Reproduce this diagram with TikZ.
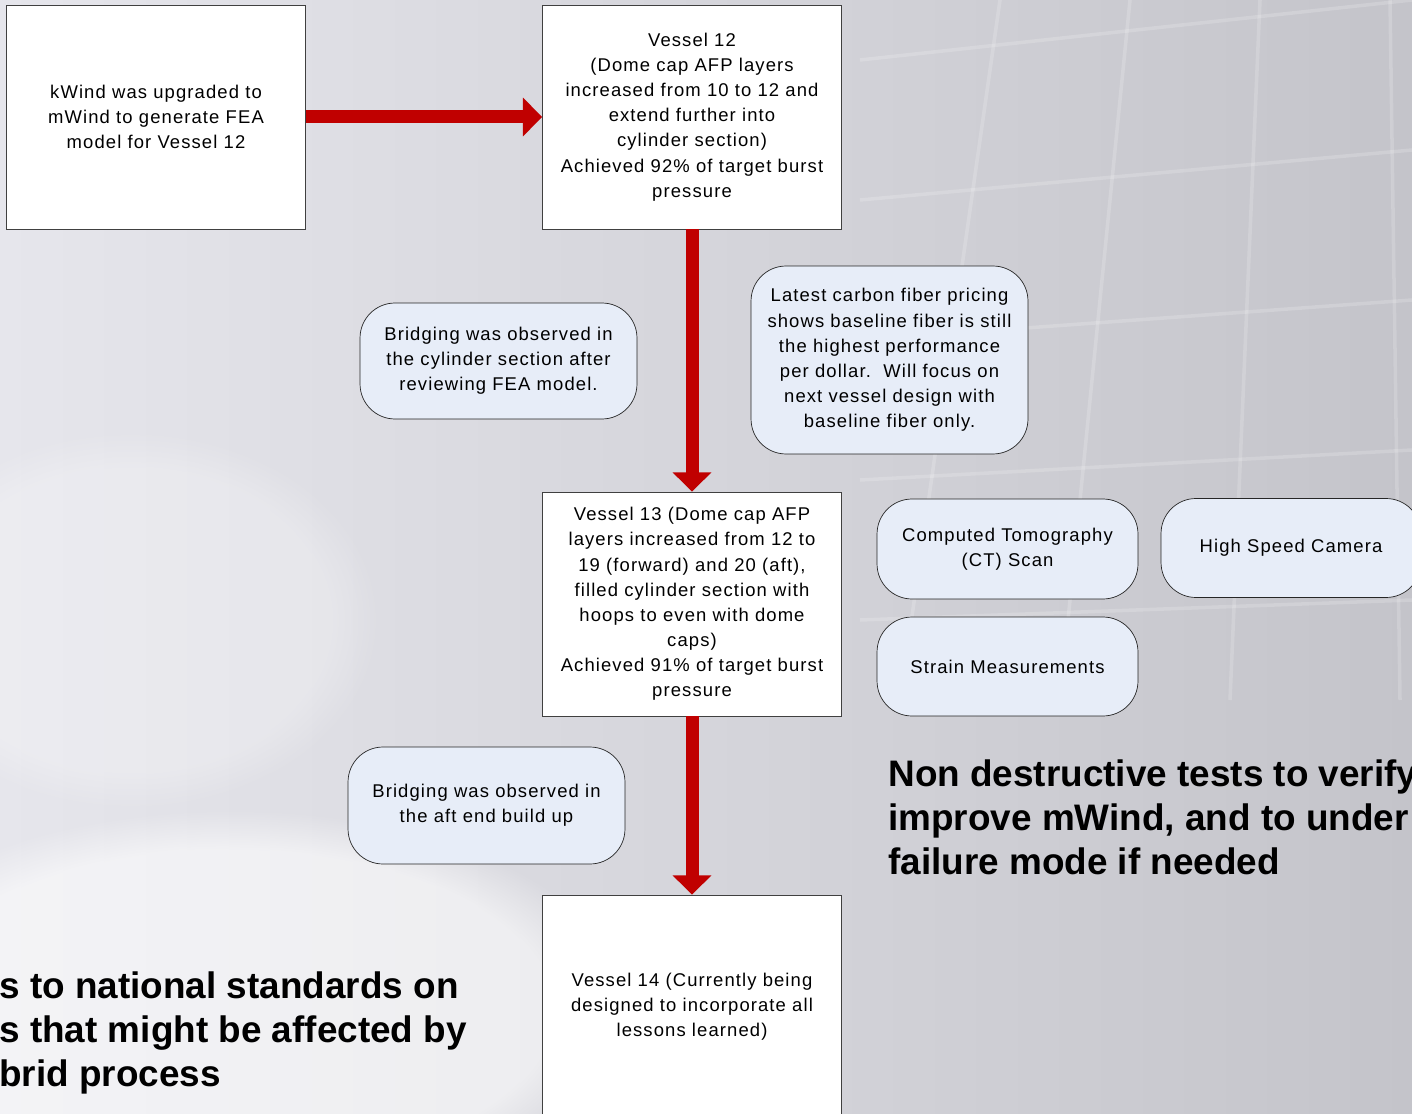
\documentclass[tikz,border=0pt]{standalone}
\usepackage{fontspec}
\setmainfont{Liberation Sans}
\newfontfamily\boxfont[LetterSpace=6]{Liberation Sans}
\usetikzlibrary{positioning,arrows.meta,fadings}

\definecolor{arrowred}{HTML}{C00000}
\definecolor{noteblue}{HTML}{E7EDF8}
\definecolor{slidegray}{HTML}{C4C4CA}
\definecolor{slidelight}{HTML}{E6E6EC}

\newcommand{\boxtext}{\boxfont\fontsize{10.5}{14.3}\selectfont}
\newcommand{\bigtext}{\bfseries\fontsize{21}{25.2}\selectfont}

\tikzset{
  vesselbox/.style={draw=black!75, fill=white, align=center, inner sep=2pt,
    minimum width=5.98cm, minimum height=4.48cm, font=\boxtext},
  notebox/.style={draw=black!85, fill=noteblue, align=center, inner sep=2pt,
    rounded corners=0.7cm, font=\boxtext},
  redarrow/.style={draw=arrowred, line width=7.4pt,
    -{Triangle[width=21.5pt,length=11pt]}},
  gridline/.style={white, line width=2pt, opacity=0.18}
}

\begin{document}
\begin{tikzpicture}[x=0.02cm, y=-0.02cm]
  \clip (0,0) rectangle (1412,1114);
  % slide background
  \shade[left color=slidelight, right color=slidegray] (0,0) rectangle (1412,1114);
  \fill[white, opacity=0.55, path fading=circle with fuzzy edge 20 percent] (230,1010) ellipse (400 and 200);
  \fill[white, opacity=0.25, path fading=circle with fuzzy edge 20 percent] (130,620) ellipse (250 and 190);
  \foreach \xa/\xb in {1000/900, 1130/1060, 1260/1230, 1390/1400}
    \draw[gridline] (\xa,0) -- (\xb,700);
  \foreach \ya/\yb in {60/0, 200/150, 340/300, 480/450, 620/600}
    \draw[gridline] (860,\ya) -- (1412,\yb);

  % flow boxes
  \node[vesselbox] (kwind) at (156,117)
    {kWind was upgraded to\\ mWind to generate FEA\\ model for Vessel 12};
  \node[vesselbox] (v12) at (692,117)
    {Vessel 12\\ (Dome cap AFP layers\\ increased from 10 to 12 and\\ extend further into\\
     cylinder section)\\ Achieved 92\% of target burst\\ pressure};
  \node[vesselbox] (v13) at (692,604)
    {Vessel 13 (Dome cap AFP\\ layers increased from 12 to\\ 19 (forward) and 20 (aft),\\
     filled cylinder section with\\ hoops to even with dome\\ caps)\\
     Achieved 91\% of target burst\\ pressure};
  \node[vesselbox] (v14) at (692,1007)
    {Vessel 14 (Currently being\\ designed to incorporate all\\ lessons learned)};

  % side notes
  \node[notebox, minimum width=5.54cm, minimum height=2.32cm] (bridge1) at (498.5,361)
    {Bridging was observed in\\ the cylinder section after\\ reviewing FEA model.};
  \node[notebox, minimum width=5.54cm, minimum height=3.76cm] (carbon) at (889.5,360)
    {Latest carbon fiber pricing\\ shows baseline fiber is still\\ the highest performance\\
     per dollar.\ \ Will focus on\\ next vessel design with\\ baseline fiber only.};
  \node[notebox, minimum width=5.54cm, minimum height=2.34cm] (bridge2) at (486.5,805.5)
    {Bridging was observed in\\ the aft end build up};
  \node[notebox, minimum width=5.22cm, minimum height=2cm] (ct) at (1007.5,549)
    {Computed Tomography\\ (CT) Scan};
  \node[notebox, minimum width=5.2cm, minimum height=1.98cm] (camera) at (1291,548)
    {High Speed Camera};
  \node[notebox, minimum width=5.22cm, minimum height=1.98cm] (strain) at (1007.5,666.5)
    {Strain Measurements};

  % headline texts
  \node[anchor=north west, inner sep=0, align=left, font=\bigtext] (ndt) at (888,759)
    {Non destructive tests to verify\\ improve mWind, and to under\\ failure mode if needed};
  \node[anchor=north west, inner sep=0, align=left, font=\bigtext] (standards) at (-1,971)
    {s to national standards on\\ s that might be affected by\\ brid process};

  % arrows
  \draw[redarrow] (kwind) -- (v12);
  \draw[redarrow] (v12) -- (v13);
  \draw[redarrow] (v13) -- (v14);
\end{tikzpicture}
\end{document}
